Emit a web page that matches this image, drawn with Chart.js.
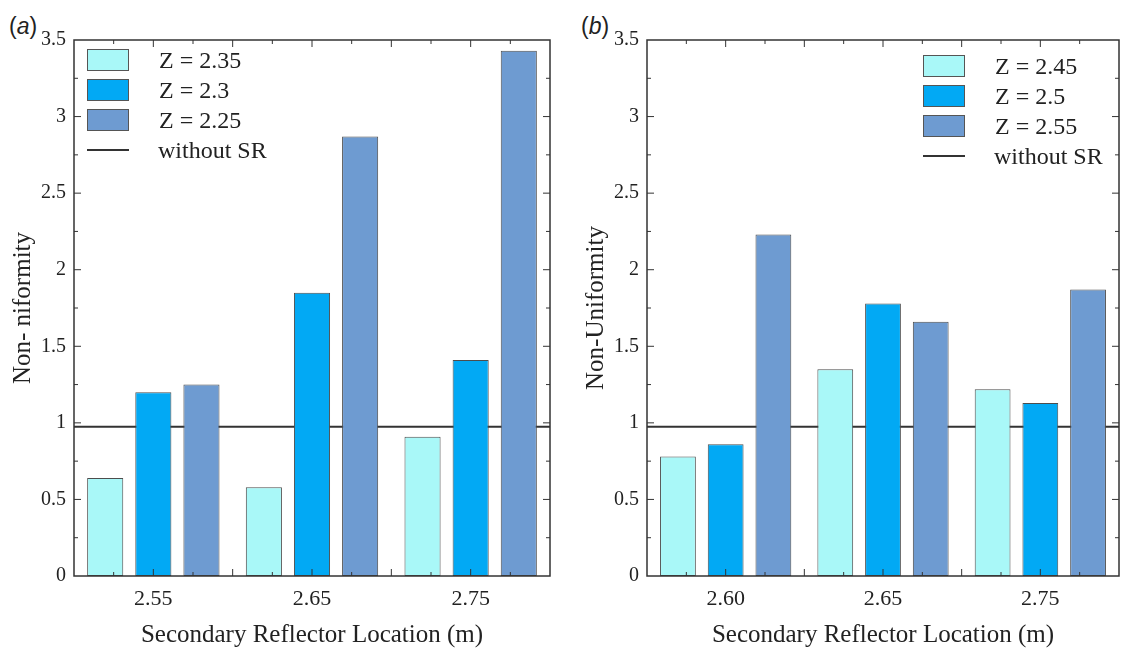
<!DOCTYPE html>
<html lang="en">
<head>
  <meta charset="UTF-8">
  <title>Non-Uniformity vs Secondary Reflector Location</title>
  <script src="https://cdn.jsdelivr.net/npm/chart.js@4.4.0/dist/chart.umd.min.js"></script>
  <style>
    body { margin: 0; background: #fff; width: 1123px; height: 650px; position: relative; overflow: hidden;
           font-family: "Liberation Serif", "Times New Roman", serif; color: #222; }
    canvas { position: absolute; top: 0; }
    .tag { position: absolute; top: 15px; font-family: "Liberation Sans", Arial, sans-serif; font-size: 23px; line-height: 1; }
    .tag i { font-style: italic; }
    .legend { position: absolute; font-size: 24px; }
    .legend .row { display: flex; align-items: center; height: 30px; white-space: nowrap; }
    .legend .box { width: 40px; height: 20px; border: 1px solid #555; margin-right: 30px; box-sizing: content-box; }
    .legend .line { width: 42px; height: 0; border-top: 2px solid #333; margin-right: 29px; }
  </style>
</head>

<body>
  <div class="tag" style="left:9px">(<i>a</i>)</div>
  <div class="tag" style="left:581px">(<i>b</i>)</div>
  <canvas id="chart-a" width="562" height="650" style="left:0"></canvas>
  <canvas id="chart-b" width="558" height="650" style="left:565px"></canvas>
  <div class="legend" id="legend-a" style="left:87px; top:45px"></div>
  <div class="legend" id="legend-b" style="left:923px; top:51px"></div>

  <script>
    // panel (a)
    const locationsA = ['2.55', '2.65', '2.75'];
    const seriesLabelsA = ['Z = 2.35', 'Z = 2.3', 'Z = 2.25'];
    const z235 = [0.64, 0.58, 0.91];
    const z230 = [1.20, 1.85, 1.41];
    const z225 = [1.25, 2.87, 3.43];

    // panel (b)
    const locationsB = ['2.60', '2.65', '2.75'];
    const seriesLabelsB = ['Z = 2.45', 'Z = 2.5', 'Z = 2.55'];
    const z245 = [0.78, 1.35, 1.22];
    const z250 = [0.86, 1.78, 1.13];
    const z255 = [2.23, 1.66, 1.87];

    // reference level, same in both panels
    const withoutSR = 0.975;
    const lineLabel = 'without SR';

    const yTickLabels = ['0', '0.5', '1', '1.5', '2', '2.5', '3', '3.5'];
    const yMin = 0, yMax = 3.5, yStep = 0.5, yMinorStep = 0.25;

    const fills = ['#a9f8f8', '#02a9f4', '#6e9bd1'];
    const serif = '"Liberation Serif", "Times New Roman", serif';

    // "without SR" level: horizontal line across the plot, under the bars
    const levelPlugin = {
      id: 'level',
      beforeDatasetsDraw(chart) {
        const { ctx, chartArea: a, scales: { y } } = chart;
        const py = y.getPixelForValue(withoutSR);
        ctx.save();
        ctx.strokeStyle = '#333';
        ctx.lineWidth = 2;
        ctx.beginPath();
        ctx.moveTo(a.left, py);
        ctx.lineTo(a.right, py);
        ctx.stroke();
        ctx.restore();
      }
    };

    // box around the plot with inward ticks on all four sides
    const framePlugin = {
      id: 'frame',
      afterDatasetsDraw(chart) {
        const { ctx, chartArea: a, scales: { x, y } } = chart;
        ctx.save();
        ctx.strokeStyle = '#333';
        ctx.lineWidth = 1;
        ctx.beginPath();
        const nMinor = Math.round((yMax - yMin) / yMinorStep);
        for (let k = 1; k < nMinor; k++) {
          const py = y.getPixelForValue(yMin + k * yMinorStep);
          const len = k % 2 === 0 ? 7 : 4;
          ctx.moveTo(a.left, py); ctx.lineTo(a.left + len, py);
          ctx.moveTo(a.right, py); ctx.lineTo(a.right - len, py);
        }
        const n = chart.data.labels.length;
        for (let k = 1; k < n * 4; k++) {
          const px = x.getPixelForValue(-0.5 + k * 0.25);
          const len = k % 2 === 0 ? 7 : 4;
          ctx.moveTo(px, a.bottom); ctx.lineTo(px, a.bottom - len);
          ctx.moveTo(px, a.top); ctx.lineTo(px, a.top + len);
        }
        ctx.stroke();
        ctx.lineWidth = 1.5;
        ctx.strokeRect(a.left, a.top, a.right - a.left, a.bottom - a.top);
        ctx.restore();
      }
    };

    function makeChart(id, categories, labels, series, yTitle, yWidth, yTitlePad, padRight) {
      const datasets = series.map((d, i) => ({
        label: labels[i],
        data: d,
        backgroundColor: fills[i],
        borderColor: '#4d4d4d',
        borderWidth: 1,
        borderSkipped: false,
        categoryPercentage: 0.91,
        barPercentage: 0.75
      }));

      return new Chart(document.getElementById(id), {
        type: 'bar',
        data: { labels: categories, datasets: datasets },
        plugins: [levelPlugin, framePlugin],
        options: {
          responsive: false,
          animation: false,
          layout: { padding: { top: 40, right: padRight, left: 0, bottom: 0 } },
          plugins: { legend: { display: false }, tooltip: { enabled: false } },
          scales: {
            x: {
              grid: { display: false, drawTicks: false },
              border: { display: false },
              ticks: { color: '#222', font: { family: serif, size: 22 }, padding: 10 },
              title: {
                display: true, text: 'Secondary Reflector Location (m)', color: '#222',
                font: { family: serif, size: 25 }, padding: { top: 0, bottom: 0 }
              },
              afterFit: s => { s.height = 74; }
            },
            y: {
              min: yMin, max: yMax,
              grid: { display: false, drawTicks: false },
              border: { display: false },
              ticks: {
                stepSize: yStep, color: '#222', padding: 8,
                font: { family: serif, size: 20 },
                callback: (v, i) => yTickLabels[i]
              },
              title: {
                display: true, text: yTitle, color: '#222',
                font: { family: serif, size: 25 }, padding: { top: yTitlePad, bottom: 0 }
              },
              afterFit: s => { s.width = yWidth; }
            }
          }
        }
      });
    }

    function buildLegend(chart, el) {
      const items = chart.data.datasets.map(ds => ({ label: ds.label, color: ds.backgroundColor }));
      items.push({ label: lineLabel, color: null });
      items.forEach(it => {
        const row = document.createElement('div');
        row.className = 'row';
        const key = document.createElement('span');
        if (it.color) {
          key.className = 'box';
          key.style.background = it.color;
        } else {
          key.className = 'line';
        }
        row.appendChild(key);
        row.appendChild(document.createTextNode(it.label));
        el.appendChild(row);
      });
    }

    const chartA = makeChart('chart-a', locationsA, seriesLabelsA, [z235, z230, z225], 'Non- niformity', 74, 8, 12);
    const chartB = makeChart('chart-b', locationsB, seriesLabelsB, [z245, z250, z255], 'Non-Uniformity', 82, 16, 4);
    buildLegend(chartA, document.getElementById('legend-a'));
    buildLegend(chartB, document.getElementById('legend-b'));
  </script>
</body>
</html>
